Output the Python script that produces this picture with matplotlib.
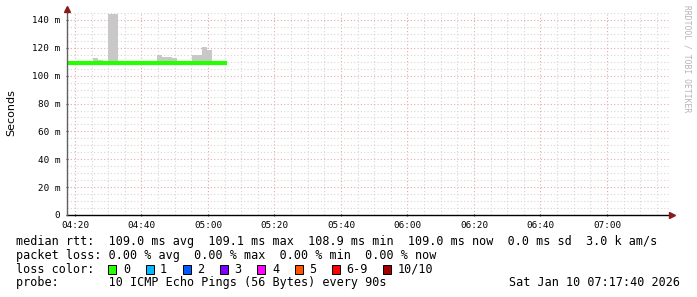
import matplotlib
matplotlib.use('Agg')
import matplotlib.pyplot as plt
import matplotlib.patches as mpatches
from matplotlib.ticker import FixedLocator
import numpy as np

# dados (minutos desde 04:00, bins de 90 s)
bin_start = 17.8
bin_step = 1.5
median_rtt = [109.3, 109.3, 109.3, 109.0, 109.0, 109.0, 109.0, 109.0,
              109.0, 109.0, 109.0, 109.0, 109.0, 109.0, 109.0, 109.0,
              109.0, 109.0, 109.0, 109.0, 109.0, 109.2, 109.2, 109.2,
              109.0, 109.0, 109.0, 109.0, 109.0, 109.0, 109.0, 109.2]
smoke_top = [109.3, 109.3, 109.3, 109.0, 109.0, 112.5, 111.0, 109.0,
             144.0, 144.0, 110.8, 110.8, 109.0, 110.6, 109.0, 109.0,
             109.0, 109.0, 115.1, 113.7, 113.7, 112.5, 109.2, 109.2,
             109.0, 115.1, 114.5, 120.8, 118.7, 109.0, 109.0, 109.2]
smoke_bottom = 108.5

x_major = [20, 40, 60, 80, 100, 120, 140, 160, 180]
x_labels = ['04:20', '04:40', '05:00', '05:20', '05:40', '06:00', '06:20', '06:40', '07:00']
y_major = [0, 20, 40, 60, 80, 100, 120, 140]
y_labels = ['0', '20 m', '40 m', '60 m', '80 m', '100 m', '120 m', '140 m']

legend_lines = [
    'median rtt:  109.0 ms avg  109.1 ms max  108.9 ms min  109.0 ms now  0.0 ms sd  3.0 k am/s',
    'packet loss: 0.00 % avg  0.00 % max  0.00 % min  0.00 % now',
]
loss_labels = ['0', '1', '2', '3', '4', '5', '6-9', '10/10']
loss_colors = ['#26ff00', '#00b8ff', '#0059ff', '#7e00ff', '#ff00ff', '#ff5500', '#ff0000', '#a00000']
probe_text = 'probe:       10 ICMP Echo Pings (56 Bytes) every 90s'
date_text = 'Sat Jan 10 07:17:40 2026'

W, H = 697, 297
mono = 'DejaVu Sans Mono'

fig = plt.figure(figsize=(W / 100, H / 100), dpi=100)
ax = fig.add_axes([67 / W, 1 - 215 / H, (669 - 67) / W, (215 - 13) / H])

edges = bin_start + bin_step * np.arange(len(median_rtt) + 1)

# fumaça (cinza)
heights = [t - smoke_bottom for t in smoke_top]
ax.bar(edges[:-1], heights, width=bin_step, bottom=smoke_bottom, align='edge',
       color='#c8c8c8', linewidth=0, zorder=2)
# mediana
ax.stairs(median_rtt, edges, color='#26ff00', linewidth=3, baseline=None, zorder=3)

ax.set_xlim(17.594, 198.65)
ax.set_ylim(0, 145)

# grade pontilhada
dot = (0, (1, 2))
for xm in np.arange(20, 199, 5):
    c = '#e6aaaa' if xm % 20 == 0 else '#d6d6d6'
    ax.axvline(xm, color=c, linestyle=dot, linewidth=0.8, zorder=1)
for ym in np.arange(5, 146, 5):
    c = '#e6aaaa' if ym % 20 == 0 else '#d6d6d6'
    ax.axhline(ym, color=c, linestyle=dot, linewidth=0.8, zorder=1)

for s in ax.spines.values():
    s.set_visible(False)

ax.xaxis.set_major_locator(FixedLocator(x_major))
ax.set_xticklabels(x_labels, fontfamily=mono, fontsize=6.7)
ax.yaxis.set_major_locator(FixedLocator(y_major))
ax.set_yticklabels(y_labels, fontfamily=mono, fontsize=6.7)
ax.tick_params(axis='both', length=2, width=0.8, direction='inout', colors='#404040',
               labelcolor='black')
ax.tick_params(axis='x', pad=3)
ax.tick_params(axis='y', pad=4)

# eixos com setas
ax.plot([0, 1.005], [0, 0], transform=ax.transAxes, color='black', lw=1, clip_on=False, zorder=5)
ax.plot([1.005], [0], transform=ax.transAxes, marker='>', color='#8b1a1a', ms=4, clip_on=False, zorder=6)
ax.plot([0, 0], [0, 1.02], transform=ax.transAxes, color='#606060', lw=1, clip_on=False, zorder=5)
ax.plot([0], [1.02], transform=ax.transAxes, marker='^', color='#8b1a1a', ms=4, clip_on=False, zorder=6)

fig.text(11 / W, 1 - 113 / H, 'Seconds', rotation=90, ha='center', va='center',
         fontsize=8, fontfamily='DejaVu Sans')
fig.text(687 / W, 1 - 5 / H, 'RRDTOOL / TOBI OETIKER', rotation=270, ha='center', va='top',
         fontsize=5.8, fontfamily=mono, color='#b4b4b4')

rows_y = [241.5, 255.3, 269.3, 282.7]
for txt, yy in zip(legend_lines, rows_y[:2]):
    fig.text(16 / W, 1 - yy / H, txt, ha='left', va='center', fontsize=8.5, fontfamily=mono)

fig.text(16 / W, 1 - rows_y[2] / H, 'loss color:', ha='left', va='center', fontsize=8.5, fontfamily=mono)
cw = 7.1
bx = 108.3
for lab, col in zip(loss_labels, loss_colors):
    rect = mpatches.Rectangle((bx / W, 1 - 273.5 / H), 8 / W, 9 / H, transform=fig.transFigure,
                              facecolor=col, edgecolor='black', linewidth=0.7)
    fig.add_artist(rect)
    fig.text((bx + 14.5) / W, 1 - rows_y[2] / H, lab, ha='left', va='center', fontsize=8.5, fontfamily=mono)
    bx += (len(lab) + 4.25) * cw

fig.text(16 / W, 1 - rows_y[3] / H, probe_text, ha='left', va='center', fontsize=8.5, fontfamily=mono)
fig.text(680 / W, 1 - rows_y[3] / H, date_text, ha='right', va='center', fontsize=8.5, fontfamily=mono)

fig.savefig('out.png', dpi=100, facecolor='white')
